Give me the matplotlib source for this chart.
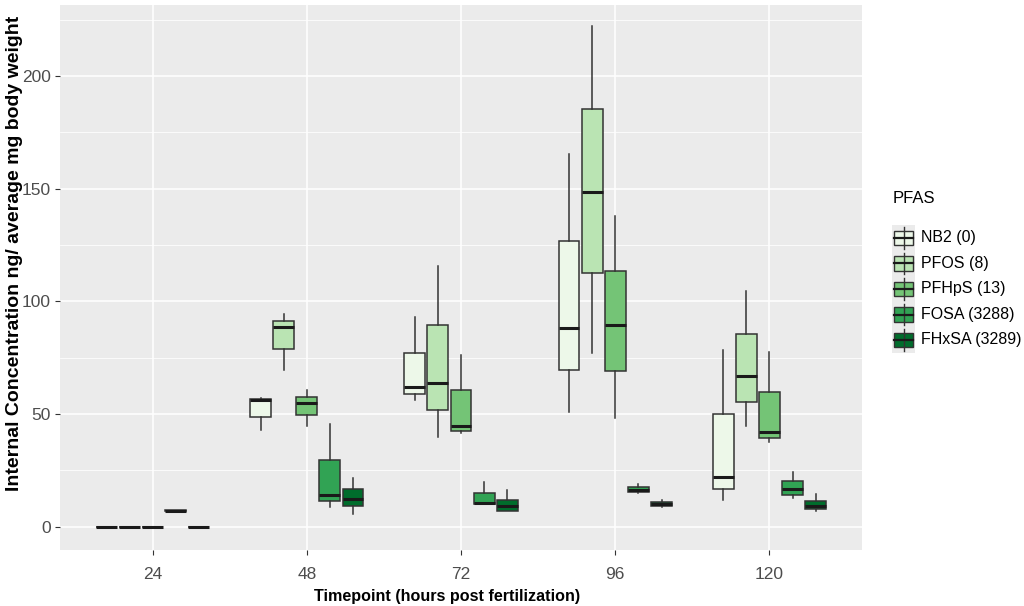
import matplotlib
matplotlib.use("Agg")
import matplotlib.pyplot as plt
from matplotlib.patches import Rectangle

plt.rcParams["font.family"] = ["Liberation Sans", "DejaVu Sans"]

timepoints = ["24", "48", "72", "96", "120"]
compounds = ["NB2 (0)", "PFOS (8)", "PFHpS (13)", "FOSA (3288)", "FHxSA (3289)"]
colors = ["#EDF8E9", "#BAE4B3", "#74C476", "#31A354", "#006D2C"]

# box statistics: (lower whisker, q1, median, q3, upper whisker)
nb2 = [(0, 0, 0, 0, 0), (43.0, 48.9, 56.2, 56.6, 57.2), (56.3, 59.0, 62.2, 77.3, 93.0),
       (51.1, 69.5, 88.1, 126.7, 165.4), (11.7, 16.7, 22.0, 50.1, 78.5)]
pfos = [(0, 0, 0, 0, 0), (69.6, 78.8, 88.6, 91.2, 94.5), (39.8, 51.6, 63.7, 89.7, 115.7),
        (77.0, 112.5, 148.7, 185.2, 222.2), (44.5, 55.4, 66.7, 85.5, 104.4)]
pfhps = [(0, 0, 0, 0, 0), (44.5, 49.5, 54.9, 57.5, 60.8), (41.5, 42.4, 44.5, 60.5, 76.4),
         (48.3, 68.9, 89.6, 113.7, 137.9), (37.6, 39.6, 42.0, 59.6, 77.6)]
fosa = [(6.8, 7.0, 7.2, 7.4, 7.6), (8.7, 11.4, 14.2, 29.7, 45.7), (10.2, 10.3, 10.5, 15.2, 20.0),
        (15.0, 15.6, 16.5, 17.6, 19.1), (12.7, 14.2, 16.7, 20.4, 24.4)]
fhxsa = [(0, 0, 0, 0, 0), (5.8, 9.0, 12.3, 16.9, 21.6), (7.0, 7.2, 9.0, 12.0, 16.1),
         (8.8, 9.3, 10.0, 11.0, 12.0), (7.0, 7.8, 9.0, 11.3, 14.5)]
series = [nb2, pfos, pfhps, fosa, fhxsa]

fig = plt.figure(figsize=(10.24, 6.06), dpi=100)
W, H = 1024, 606
ax = fig.add_axes([60 / W, (H - 550) / H, (862 - 60) / W, (550 - 5) / H])
ax.set_facecolor("#EBEBEB")

edge = "#333333"
dodge = 0.15
for j, data in enumerate(series):
    stats = []
    for lo, q1, med, q3, hi in data:
        stats.append({"whislo": lo, "q1": q1, "med": med, "q3": q3, "whishi": hi, "fliers": []})
    pos = [i + 1 + (j - 2) * dodge for i in range(len(timepoints))]
    ax.bxp(stats, positions=pos, widths=0.135, showcaps=False, patch_artist=True,
           boxprops=dict(facecolor=colors[j], edgecolor=edge, linewidth=1.1),
           whiskerprops=dict(color=edge, linewidth=1.1),
           medianprops=dict(color="#1A1A1A", linewidth=2.2, solid_capstyle="butt"),
           zorder=3)

ax.set_xlim(0.4, 5.6)
ax.set_ylim(-10.3, 231.5)
ax.set_xticks(range(1, 6))
ax.set_xticklabels(timepoints)
ax.set_yticks([0, 50, 100, 150, 200])
ax.set_yticks([25, 75, 125, 175, 225], minor=True)
ax.grid(which="major", color="white", linewidth=1.1, zorder=0)
ax.grid(which="minor", axis="y", color="white", linewidth=0.55, zorder=0)
ax.set_axisbelow(True)
for s in ax.spines.values():
    s.set_visible(False)
ax.tick_params(axis="both", which="major", length=3.5, width=0.8, color=edge,
               labelsize=12.5, labelcolor="#4D4D4D")
ax.tick_params(axis="x", which="major", pad=9)
ax.tick_params(axis="y", which="major", pad=3)
ax.tick_params(axis="y", which="minor", length=0)
ax.set_xlabel("Timepoint (hours post fertilization)", fontsize=11.6, fontweight="bold")
ax.xaxis.set_label_coords((447 - 60) / 802, (550 - 589) / 545)
ax.set_ylabel("Internal Concentration ng/ average mg body weight", fontsize=14,
              fontweight="bold")
ax.yaxis.set_label_coords((23 - 60) / 802, (550 - 253) / 545)

# legend
fig.text(893 / W, 1 - 198 / H, "PFAS", fontsize=12, va="center", ha="left")
lax = fig.add_axes([892 / W, (H - 353) / H, 23 / W, 128 / H])
lax.set_xlim(0, 1)
lax.set_ylim(0, 5)
lax.axis("off")
lax.add_patch(Rectangle((0, 0), 1, 5, facecolor="#EBEBEB", edgecolor="none"))
for j, name in enumerate(compounds):
    yc = 4.5 - j
    lax.plot([0.5, 0.5], [yc - 0.42, yc + 0.42], color=edge, lw=1.0)
    lax.add_patch(Rectangle((0.1, yc - 0.28), 0.8, 0.56, facecolor=colors[j], edgecolor=edge, lw=1.0))
    lax.plot([0.1, 0.9], [yc, yc], color="#1A1A1A", lw=1.6)
    fig.text(921 / W, 1 - (225 + 25.5 * (j + 0.5)) / H, name, fontsize=11.5, va="center", ha="left")

fig.savefig("out.png", dpi=100)
